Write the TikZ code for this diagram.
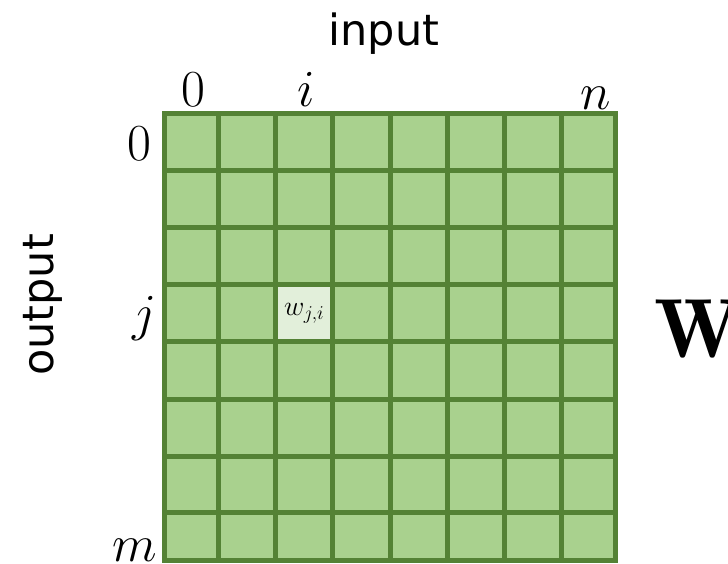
\RequirePackage{fix-cm}
\documentclass[tikz,border=0pt]{standalone}
\usepackage{fontspec}
\newfontfamily\labelsans{DejaVu Sans}
\definecolor{cellgreen}{HTML}{A9D18E}
\definecolor{gridgreen}{HTML}{548235}
\definecolor{cellhi}{HTML}{E2EFDA}
\begin{document}
\begin{tikzpicture}[x=1pt,y=-1pt,
  axislabel/.style={font=\labelsans\fontsize{43}{50}\selectfont, inner sep=0pt},
  idx/.style={font=\fontsize{52}{58}\selectfont, inner sep=0pt},
  gridline/.style={draw=gridgreen, line width=5pt},
]
\useasboundingbox (0,0) rectangle (728,563);
% cells
\fill[cellgreen] (164,113.3) rectangle (615.7,560.5);
\fill[cellhi] (275.6,284.5) rectangle (332.8,341.7);
% grid lines
\foreach \gx in {218.5,275.6,332.8,390,447.2,504.4,561.6}
  \draw[gridline] (\gx,113.3) -- (\gx,560.5);
\foreach \gy in {170.5,227.5,284.5,341.7,399,456,512.7}
  \draw[gridline] (164,\gy) -- (615.7,\gy);
\draw[gridline] (164,113.3) rectangle (615.7,560.5);
% highlighted cell label
\node[inner sep=0pt, font=\fontsize{28}{32}\selectfont] (wji) at (304.2,313) {$w_{j,i}$};
% axis labels
\node[axislabel, anchor=base] (input) at (383.8,45) {input};
\node[axislabel, anchor=base, rotate=90] (output) at (53,305) {output};
% column indices
\node[idx, anchor=base] (c0) at (193,106) {$0$};
\node[idx, anchor=base] (ci) at (306,106) {$i$};
\node[idx, anchor=base] (cn) at (596,109) {$n$};
% row indices
\node[idx, anchor=base east] (r0) at (152,160) {$0$};
\node[idx, anchor=base east] (rj) at (157,330) {$j$};
\node[idx, anchor=base east] (rm) at (157,561) {$m$};
% matrix name
\node[inner sep=0pt, anchor=base west, font=\fontsize{84}{90}\selectfont] (W) at (654,357) {$\mathbf{W}$};
\end{tikzpicture}
\end{document}
